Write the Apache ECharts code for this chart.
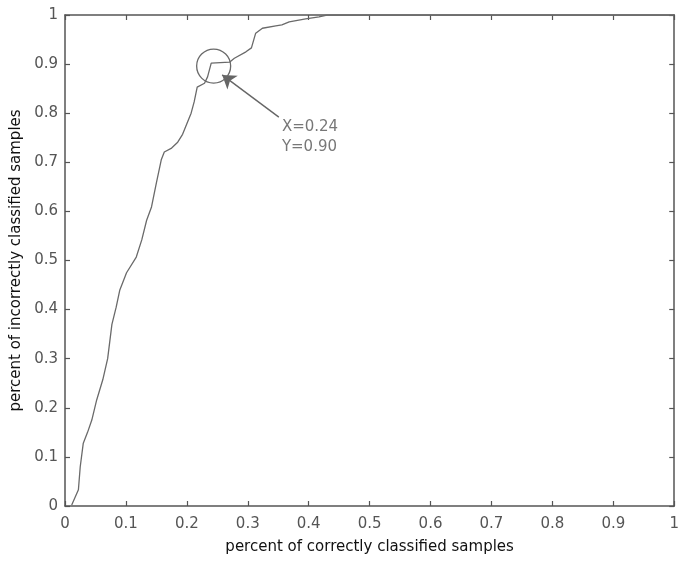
<!DOCTYPE html>
<html>
<head>
<meta charset="utf-8">
<script src="https://cdn.jsdelivr.net/npm/echarts@6/dist/echarts.min.js"></script>
<style>html,body{margin:0;padding:0;background:#fff;}#chart{width:682px;height:563px;}</style>
</head>
<body>
<div id="chart"></div>
<script>
const xValues = [0.011,0.022,0.025,0.030,0.037,0.044,0.052,0.062,0.070,0.077,0.084,0.090,0.101,0.117,0.126,0.134,0.142,0.150,0.158,0.163,0.175,0.185,0.193,0.207,0.212,0.217,0.229,0.234,0.240,0.270,0.278,0.297,0.306,0.313,0.324,0.346,0.356,0.368,0.395,0.417,0.430,1.000];
const yValues = [0.002,0.033,0.080,0.128,0.150,0.175,0.216,0.257,0.300,0.370,0.405,0.440,0.475,0.507,0.542,0.582,0.609,0.658,0.705,0.721,0.729,0.741,0.757,0.800,0.823,0.853,0.861,0.874,0.902,0.904,0.912,0.925,0.933,0.963,0.973,0.978,0.980,0.986,0.992,0.996,1.000,1.000];
const xTicks = ['0','0.1','0.2','0.3','0.4','0.5','0.6','0.7','0.8','0.9','1'];
const yTicks = ['0','0.1','0.2','0.3','0.4','0.5','0.6','0.7','0.8','0.9','1'];
const highlightPoint = [0.244, 0.896];
const arrowFrom = [0.351, 0.792];
const arrowTo = [0.258, 0.878];
const labelPoint = [0.356, 0.792];
const labelText = 'X=0.24\nY=0.90';
const xName = 'percent of correctly classified samples';
const yName = 'percent of incorrectly classified samples';

const lineData = xValues.map((x, i) => [x, yValues[i]]);
const FONT = 'DejaVu Sans, Liberation Sans, sans-serif';
const axisCol = '#555';
const txtCol = '#555';

const chart = echarts.init(document.getElementById('chart'));
const baseAxis = {
  type: 'value', min: 0, max: 1, interval: 0.1,
  axisLine: {show: true, onZero: false, lineStyle: {color: axisCol, width: 1.5}},
  axisTick: {show: true, inside: true, length: 5, lineStyle: {color: axisCol, width: 1.2}},
  splitLine: {show: false}
};
chart.setOption({
  backgroundColor: '#fff',
  animation: false,
  grid: {left: 65, right: 5, top: 15, bottom: 57, containLabel: false},
  xAxis: [
    Object.assign({}, baseAxis, {
      position: 'bottom',
      name: xName, nameLocation: 'middle', nameGap: 34,
      nameTextStyle: {color: '#111', fontSize: 15, fontFamily: FONT},
      axisLabel: {color: txtCol, fontSize: 15, fontFamily: FONT, margin: 11,
        formatter: (v) => xTicks[Math.round(v * 10)]}
    }),
    Object.assign({}, baseAxis, {position: 'top', axisLabel: {show: false}})
  ],
  yAxis: [
    Object.assign({}, baseAxis, {
      position: 'left',
      name: yName, nameLocation: 'middle', nameGap: 40,
      nameTextStyle: {color: '#111', fontSize: 15, fontFamily: FONT},
      axisLabel: {color: txtCol, fontSize: 15, fontFamily: FONT, margin: 7,
        formatter: (v) => yTicks[Math.round(v * 10)]}
    }),
    Object.assign({}, baseAxis, {position: 'right', axisLabel: {show: false}})
  ],
  series: [
    {
      type: 'line', data: lineData, showSymbol: false, smooth: false,
      lineStyle: {color: '#6a6a6a', width: 1.3},
      markPoint: {
        symbol: 'circle', symbolSize: 34, silent: true,
        itemStyle: {color: 'rgba(0,0,0,0)', borderColor: '#6a6a6a', borderWidth: 1.3},
        label: {show: false},
        data: [{coord: highlightPoint}]
      },
      markLine: {
        silent: true, symbol: ['none', 'arrow'], symbolSize: 13,
        lineStyle: {color: '#666', width: 1.4, type: 'solid'},
        itemStyle: {color: '#666'},
        label: {show: false},
        data: [[{coord: arrowFrom}, {coord: arrowTo}]]
      }
    },
    {
      type: 'scatter', symbolSize: 0, silent: true,
      data: [labelPoint],
      label: {show: true, position: 'right', distance: 0, formatter: labelText,
        color: '#555', fontSize: 15, fontFamily: FONT, lineHeight: 20, align: 'left', verticalAlign: 'top'}
    }
  ]
});
</script>
</body>
</html>
